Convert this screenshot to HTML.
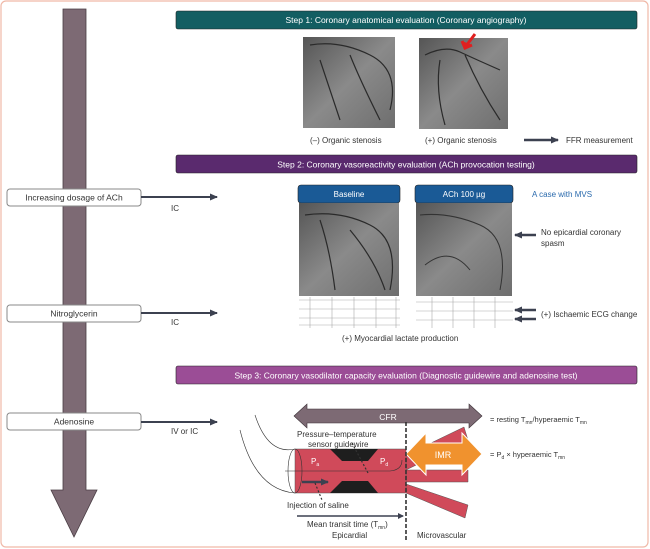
<!DOCTYPE html>
<html><head><meta charset="utf-8"><style>
body{margin:0;background:#fff}
svg{display:block;font-family:"Liberation Sans",sans-serif}
</style></head><body>
<svg width="650" height="549" viewBox="0 0 650 549" xmlns="http://www.w3.org/2000/svg">
<defs>
<marker id="ah" markerUnits="userSpaceOnUse" markerWidth="8" markerHeight="8" refX="7" refY="4" orient="auto"><path d="M0,0.5L8,4L0,7.5z" fill="#3c4150"/></marker>
<marker id="ahs" markerUnits="userSpaceOnUse" markerWidth="6" markerHeight="6" refX="5" refY="3" orient="auto"><path d="M0,0L6,3L0,6z" fill="#3c4150"/></marker>
<linearGradient id="ang" x1="0" y1="0" x2="1" y2="1"><stop offset="0" stop-color="#555"/><stop offset="0.5" stop-color="#8a8a8a"/><stop offset="1" stop-color="#6e6e6e"/></linearGradient>
</defs>
<rect x="1" y="1" width="647" height="546" rx="5" fill="#fff" stroke="#f0b9a8" stroke-width="1.2"/>
<path d="M63,9H86V490H97L74,537L51,490H63Z" fill="#7d6a74" stroke="#4a3d44" stroke-width="0.8"/>
<g font-size="8.5" fill="#333" text-anchor="middle">
<rect x="7" y="189" width="134" height="17" rx="3" fill="#fff" stroke="#888"/>
<text x="74" y="200.5">Increasing dosage of ACh</text>
<rect x="7" y="305" width="134" height="17" rx="3" fill="#fff" stroke="#888"/>
<text x="74" y="316.5">Nitroglycerin</text>
<rect x="7" y="413" width="134" height="17" rx="3" fill="#fff" stroke="#888"/>
<text x="74" y="424.5">Adenosine</text>
</g>
<g stroke="#3c4150" stroke-width="2" marker-end="url(#ah)">
<line x1="141" y1="197" x2="217" y2="197"/>
<line x1="141" y1="313" x2="217" y2="313"/>
<line x1="141" y1="422" x2="217" y2="422"/>
</g>
<g font-size="8" fill="#333">
<text x="171" y="211">IC</text><text x="171" y="325">IC</text><text x="171" y="434">IV or IC</text>
</g>
<g font-size="8.5" fill="#fff" text-anchor="middle">
<rect x="176" y="11" width="461" height="18" rx="2" fill="#135e62" stroke="#222" stroke-width="0.6"/>
<text x="406" y="23">Step 1: Coronary anatomical evaluation (Coronary angiography)</text>
<rect x="176" y="155" width="461" height="18" rx="2" fill="#5a2a6e" stroke="#222" stroke-width="0.6"/>
<text x="406" y="167.5">Step 2: Coronary vasoreactivity evaluation (ACh provocation testing)</text>
<rect x="176" y="366" width="461" height="18" rx="2" fill="#9b4d96" stroke="#222" stroke-width="0.6"/>
<text x="406" y="378.5">Step 3: Coronary vasodilator capacity evaluation (Diagnostic guidewire and adenosine test)</text>
</g>
<rect x="303" y="37" width="92" height="91" fill="url(#ang)"/>
<path d="M310,45Q340,40 370,55T390,110M320,60Q330,90 340,120M350,55Q360,80 380,120" stroke="#2a2a2a" stroke-width="1.2" fill="none"/>
<rect x="419" y="38" width="89" height="91" fill="url(#ang)"/>
<path d="M425,55Q445,45 460,52T500,70M440,60Q435,90 445,125M465,55Q480,90 500,120" stroke="#2a2a2a" stroke-width="1.2" fill="none"/>
<path d="M475,34L466,46M462,41L465,48L472,45" stroke="#e02020" stroke-width="3" fill="#e02020"/>
<g font-size="8" fill="#333">
<text x="310" y="143">(–) Organic stenosis</text>
<text x="425" y="143">(+) Organic stenosis</text>
<text x="566" y="143">FFR measurement</text>
</g>
<line x1="524" y1="140" x2="558" y2="140" stroke="#3c4150" stroke-width="2.5" marker-end="url(#ah)"/>
<g font-size="8" fill="#fff" text-anchor="middle">
<rect x="298" y="185" width="102" height="18" rx="3" fill="#1a5a96" stroke="#222" stroke-width="0.6"/>
<text x="349" y="197">Baseline</text>
<rect x="415" y="185" width="98" height="18" rx="3" fill="#1a5a96" stroke="#222" stroke-width="0.6"/>
<text x="464" y="197">ACh 100 µg</text>
</g>
<rect x="299" y="203" width="100" height="93" fill="url(#ang)"/>
<path d="M305,215Q340,210 370,225T390,290M320,220Q330,250 335,290M350,230Q375,260 385,290" stroke="#2a2a2a" stroke-width="1.2" fill="none"/>
<rect x="416" y="203" width="96" height="93" fill="url(#ang)"/>
<path d="M420,215Q450,212 480,225T500,290M425,265Q450,245 470,270" stroke="#333" stroke-width="1" fill="none"/>
<g stroke="#aaa" stroke-width="0.6" fill="none">
<path d="M299,300H400M299,309H400M299,318H400M299,325H400M416,302H513M416,311H513M416,320H513"/>
<path d="M310,297V328M332,297V328M354,297V328M376,297V328M396,297V328M432,297V328M453,297V328M474,297V328M495,297V328"/>
</g>
<g font-size="8">
<text x="532" y="197" fill="#2a6aad">A case with MVS</text>
<text x="541" y="235" fill="#333">No epicardial coronary</text>
<text x="541" y="246" fill="#333">spasm</text>
<text x="541" y="317" fill="#333">(+) Ischaemic ECG change</text>
<text x="342" y="341" fill="#333">(+) Myocardial lactate production</text>
</g>
<g stroke="#3c4150" stroke-width="2.5" marker-end="url(#ah)">
<line x1="536" y1="235" x2="515" y2="235"/>
<line x1="536" y1="310" x2="515" y2="310"/>
<line x1="536" y1="319" x2="515" y2="319"/>
</g>
<path d="M294,416L307,404V409H469V404L482,416L469,428V423H307V428Z" fill="#7d6a74" stroke="#3a2f35" stroke-width="0.6"/>
<text x="388" y="420" font-size="8.5" fill="#fff" text-anchor="middle">CFR</text>
<g font-size="7.5" fill="#333">
<text x="490" y="422">= resting T<tspan font-size="5" dy="2">mn</tspan><tspan dy="-2">/hyperaemic T</tspan><tspan font-size="5" dy="2">mn</tspan></text>
<text x="490" y="457">= P<tspan font-size="5" dy="2">d</tspan><tspan dy="-2"> × hyperaemic T</tspan><tspan font-size="5" dy="2">mn</tspan></text>
</g>
<path d="M406,455L464,427L468,440L406,470Z" fill="#d04a5a" stroke="#555" stroke-width="0.5"/>
<path d="M406,470H468V482H406Z" fill="#d04a5a" stroke="#555" stroke-width="0.5"/>
<path d="M406,484L468,505L465,518L406,493Z" fill="#d04a5a" stroke="#555" stroke-width="0.5"/>
<rect x="295" y="449" width="111" height="44" fill="#d04a5a" stroke="#555" stroke-width="0.5"/>
<path d="M330,449H378L368,461H342Z" fill="#1e1e1e"/>
<path d="M342,481H368L378,493H330Z" fill="#1e1e1e"/>
<ellipse cx="295" cy="471" rx="7" ry="22" fill="none" stroke="#333" stroke-width="0.6"/>
<path d="M255,415Q268,455 295,449M240,430Q255,490 295,493" fill="none" stroke="#333" stroke-width="0.6"/>
<path d="M285,471H390Q402,470 402,460" fill="none" stroke="#333" stroke-width="0.6"/>
<line x1="302" y1="482" x2="328" y2="482" stroke="#3c4150" stroke-width="2.5" marker-end="url(#ah)"/>
<path d="M406,454L426,433V443H462V433L482,454L462,475V465H426V475Z" fill="#f0922e" stroke="#fff" stroke-width="1"/>
<text x="443" y="458" font-size="9" fill="#fff" text-anchor="middle">IMR</text>
<line x1="406" y1="422" x2="406" y2="540" stroke="#333" stroke-width="1.6" stroke-dasharray="4,2"/>
<g font-size="8" fill="#333" stroke="none">
<text x="297" y="437">Pressure–temperature</text>
<text x="308" y="447">sensor guidewire</text>
<text x="311" y="464" fill="#fff">P<tspan font-size="5" dy="2">a</tspan></text>
<text x="380" y="464" fill="#fff">P<tspan font-size="5" dy="2">d</tspan></text>
<text x="287" y="508">Injection of saline</text>
<text x="307" y="527">Mean transit time (T<tspan font-size="5" dy="2">mn</tspan><tspan dy="-2">)</tspan></text>
<text x="332" y="538">Epicardial</text>
<text x="417" y="538">Microvascular</text>
</g>
<path d="M352,443L368,473M315,483L322,500" stroke="#333" stroke-width="1.2" stroke-dasharray="2,2" fill="none"/>
<line x1="297" y1="516" x2="403" y2="516" stroke="#3c4150" stroke-width="1.5" marker-end="url(#ahs)"/>
</svg>
</body></html>
